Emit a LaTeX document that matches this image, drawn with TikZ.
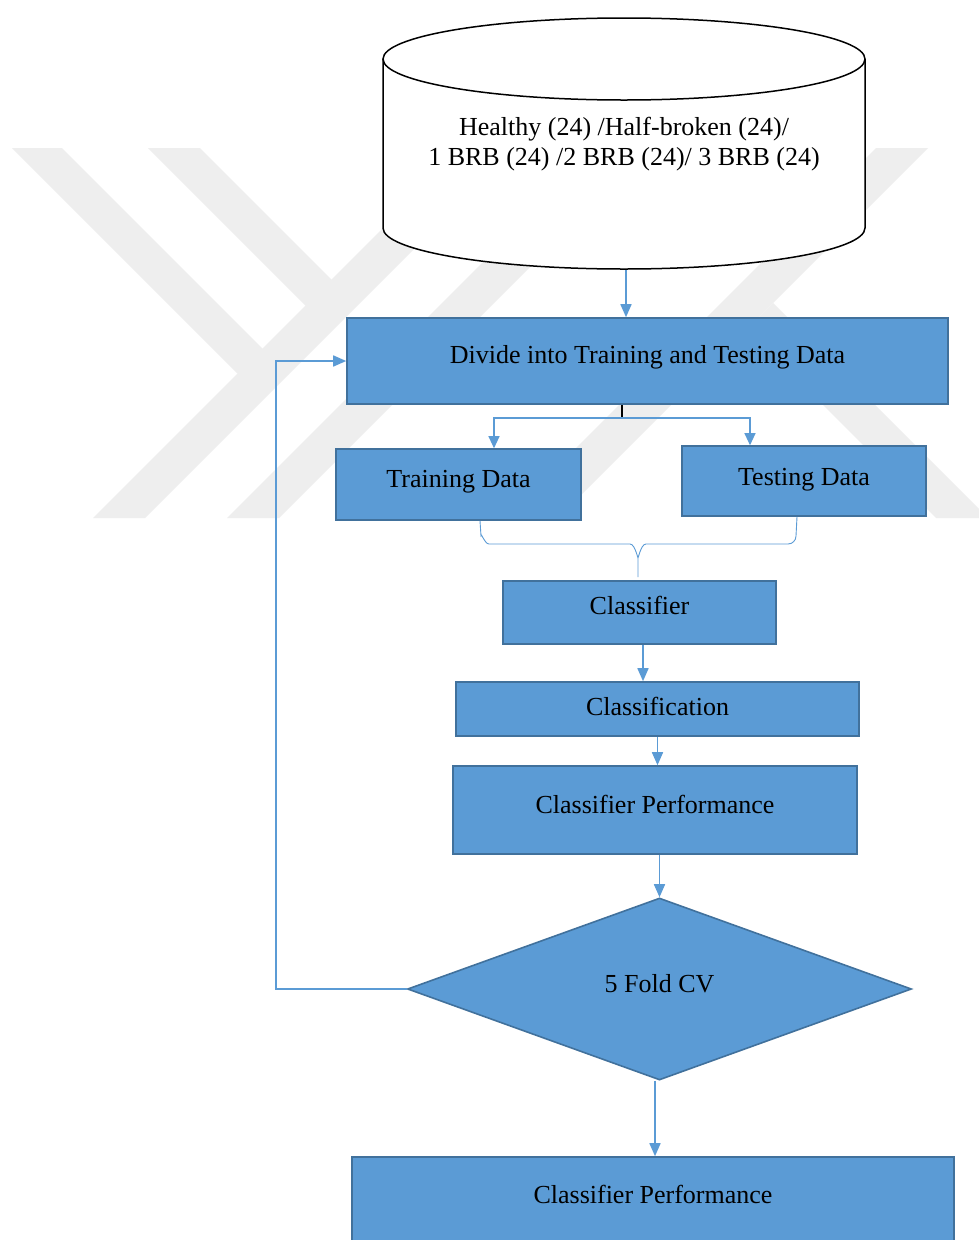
\documentclass[tikz,border=0pt]{standalone}
\usepackage{fontspec}
\setmainfont{Liberation Serif}
\usetikzlibrary{shapes.geometric,arrows.meta}
\definecolor{boxblue}{HTML}{5B9BD5}
\definecolor{boxline}{HTML}{41719C}
\definecolor{wmgray}{HTML}{EEEEEE}
\tikzset{
  box/.style={draw=boxline, line width=1.6pt, fill=boxblue, inner sep=0pt, text=black},
  tup/.style={text height=17pt, text depth=#1},
  arr/.style={draw=boxblue, line width=1.6pt, -{Triangle[length=13pt,width=11pt]}},
  thinarr/.style={draw=boxblue, line width=1.1pt, -{Triangle[length=12pt,width=11pt]}},
  bracel/.style={draw=boxblue, line width=0.9pt},
  wm/.style={fill=wmgray, draw=none},
}
\begin{document}
\begin{tikzpicture}[x=1pt, y=-1pt, font=\fontsize{26}{30}\selectfont]
\useasboundingbox (0,0) rectangle (979,1240);
\clip (0,0) rectangle (979,1240);
\fill[white] (0,0) rectangle (979,1240);
% watermark
\fill[wm] (463,148) -- (515,148) -- (145,518) -- (93,518) -- cycle;
\fill[wm] (597,148) -- (649,148) -- (279,518) -- (227,518) -- cycle;
\fill[wm] (876,148) -- (928,148) -- (558,518) -- (506,518) -- cycle;
\fill[wm] (12,148) -- (62,148) -- (288.5,374.5) -- (237.5,373.5) -- cycle;
\fill[wm] (148,148) -- (200,148) -- (332,280) -- (306,306) -- cycle;
\fill[wm] (773,303) -- (988,518) -- (936,518) -- (747,329) -- cycle;
% cylinder
\fill[white] (383,59) -- (383,228) arc[start angle=180, end angle=360, x radius=241pt, y radius=41pt] -- (865,59) arc[start angle=0, end angle=180, x radius=241pt, y radius=41pt] -- cycle;
\draw[line width=1.5pt] (383,59) -- (383,228) arc[start angle=180, end angle=360, x radius=241pt, y radius=41pt] -- (865,59);
\draw[line width=1.5pt] (624,59) ellipse [x radius=241pt, y radius=41pt];
\node[align=center, inner sep=0pt, minimum width=482pt, minimum height=252pt] (db) at (624,144) {Healthy (24) /Half-broken (24)/\\1 BRB (24) /2 BRB (24)/ 3 BRB (24)};
% boxes
\node[box, minimum width=601pt, minimum height=86pt, tup=12pt] (divide) at (647.5,361) {Divide into Training and Testing Data};
\node[box, minimum width=245pt, minimum height=71pt, tup=11pt] (train) at (458.5,484.5) {Training Data};
\node[box, minimum width=244pt, minimum height=70pt, tup=8pt] (test) at (804,481) {Testing Data};
\node[box, minimum width=273pt, minimum height=63pt, tup=13pt] (clf) at (639.5,612.5) {Classifier};
\node[box, minimum width=403pt, minimum height=54pt, tup=4pt] (cls) at (657.5,709) {Classification};
\node[box, minimum width=404pt, minimum height=88pt, tup=10pt] (perf) at (655,810) {Classifier Performance};
\node[box, diamond, minimum width=504pt, minimum height=182pt, tup=10pt] (cv) at (659.5,989) {5 Fold CV};
\node[box, minimum width=602pt, minimum height=93pt, tup=17pt] (final) at (653,1203.5) {Classifier Performance};
% connectors
\draw[arr] ([xshift=2pt]db.south) -- ([xshift=2pt]db.south |- divide.north);
\coordinate (split) at (622,418);
\draw[black, line width=1.5pt] (split |- divide.south) -- (split);
\draw[thinarr] (split) -| ([xshift=35.5pt]train.north);
\draw[thinarr] (split) -| ([xshift=-54pt]test.north);
\coordinate (brtip) at (638,577);
\draw[bracel] ([xshift=21.5pt]train.south) -- (481,536) to[out=90, in=180] (489,544) -- (630,544) to[out=0, in=-90] (638,556) -- (brtip);
\draw[bracel] ([xshift=-7pt]test.south) -- (796,536) to[out=-90, in=0] (788,544) -- (646,544) to[out=180, in=-90] (638,556);
\draw[arr] ([xshift=3.5pt]clf.south) -- ([xshift=3.5pt]clf.south |- cls.north);
\draw[arr] (cls.south) -- (cls.south |- perf.north);
\draw[arr] (cv.north |- perf.south) -- (cv.north);
\draw[arr] ([xshift=2pt]final.north |- cv.south) -- ([xshift=2pt]final.north);
\coordinate (loopc) at (276,989);
\draw[arr] (cv.west) -- (loopc) |- (divide.west);
\end{tikzpicture}
\end{document}
